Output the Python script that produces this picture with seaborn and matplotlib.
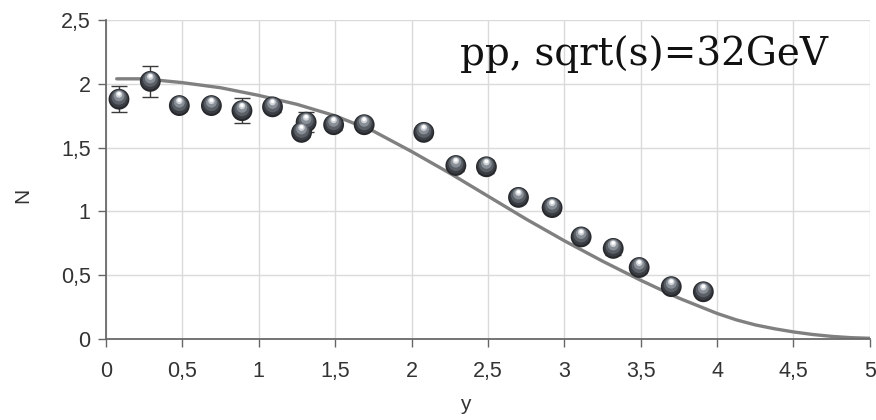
import numpy as np
import pandas as pd
import matplotlib
matplotlib.use("Agg")
import matplotlib.pyplot as plt
import matplotlib.transforms as mtransforms
import seaborn as sns

# Measured rapidity distribution
rapidity = [0.085, 0.29, 0.48, 0.69, 0.89, 1.09, 1.28, 1.31, 1.49, 1.69,
            2.08, 2.29, 2.49, 2.70, 2.92, 3.11, 3.32, 3.49, 3.70, 3.91]
multiplicity = [1.88, 2.02, 1.83, 1.83, 1.79, 1.82, 1.62, 1.70, 1.68, 1.68,
                1.62, 1.36, 1.35, 1.11, 1.03, 0.80, 0.71, 0.56, 0.41, 0.37]
multiplicity_err = [0.10, 0.12, 0.04, 0.04, 0.10, 0.04, 0.04, 0.08, 0.04, 0.04,
                    0.04, 0.04, 0.05, 0.04, 0.04, 0.04, 0.05, 0.04, 0.04, 0.04]

# Model curve
model_y = [0.07, 0.25, 0.50, 0.75, 1.00, 1.25, 1.50, 1.75, 2.00, 2.25, 2.50,
           2.75, 3.00, 3.25, 3.50, 3.75, 3.875, 4.00, 4.125, 4.25, 4.375,
           4.50, 4.625, 4.75, 4.875, 5.00]
model_n = [2.04, 2.04, 2.01, 1.97, 1.91, 1.84, 1.75, 1.63, 1.47, 1.30, 1.12,
           0.94, 0.77, 0.61, 0.46, 0.32, 0.26, 0.20, 0.15, 0.11, 0.08,
           0.055, 0.035, 0.02, 0.01, 0.005]

x_ticks = [0, 0.5, 1, 1.5, 2, 2.5, 3, 3.5, 4, 4.5, 5]
x_tick_labels = ["0", "0,5", "1", "1,5", "2", "2,5", "3", "3,5", "4", "4,5", "5"]
y_ticks = [0, 0.5, 1, 1.5, 2, 2.5]
y_tick_labels = ["0", "0,5", "1", "1,5", "2", "2,5"]

data = pd.DataFrame({"y": rapidity, "N": multiplicity, "err": multiplicity_err})
model = pd.DataFrame({"y": model_y, "N": model_n})

sns.set_theme(style="white")
plt.rcParams["font.family"] = ["Liberation Sans", "DejaVu Sans"]

fig = plt.figure(figsize=(8.76, 4.2), dpi=100)
ax = fig.add_axes([0.121, 0.193, 0.872, 0.759])

ax.grid(True, color="#dadada", linewidth=1.0)
ax.set_axisbelow(True)

sns.lineplot(data=model, x="y", y="N", ax=ax, color="#808080",
             linewidth=2.4, zorder=2, sort=True)

ax.errorbar(data["y"], data["N"], yerr=data["err"], fmt="none",
            ecolor="#3a3a3a", elinewidth=1.0, capsize=6, capthick=1.0, zorder=3)

# Glossy sphere markers built from stacked discs
sns.scatterplot(data=data, x="y", y="N", ax=ax, s=225, color="#26282c",
                edgecolor="none", zorder=4, legend=False)
layers = [(170, "#3a3e44", -0.6), (115, "#5b6067", -1.4),
          (60, "#898f97", -2.4), (22, "#cfd3d8", -3.4), (7, "#ffffff", -3.9)]
for size, col, dy in layers:
    off = mtransforms.ScaledTranslation(0, -dy / 72, fig.dpi_scale_trans)
    ax.scatter(data["y"], data["N"], s=size, color=col, edgecolor="none",
               zorder=5, transform=ax.transData + off)

ax.set_xlim(0, 5)
ax.set_ylim(0, 2.5)
ax.set_xticks(x_ticks)
ax.set_xticklabels(x_tick_labels)
ax.set_yticks(y_ticks)
ax.set_yticklabels(y_tick_labels)
ax.tick_params(axis="both", which="major", direction="out", length=6, width=1,
               color="#666666", labelsize=15.5, labelcolor="#333333", pad=5,
               bottom=True, left=True)
ax.tick_params(axis="x", pad=10)

for side in ["top", "right"]:
    ax.spines[side].set_visible(False)
for side in ["left", "bottom"]:
    ax.spines[side].set_color("#6a6a6a")
    ax.spines[side].set_linewidth(1.3)

ax.set_xlabel("y", fontsize=15, color="#333333")
ax.set_ylabel("N", fontsize=15, color="#333333")
ax.xaxis.set_label_coords(0.47, -0.175)
ax.yaxis.set_label_coords(-0.097, 0.45)

ax.text(0.945, 0.952, "pp, sqrt(s)=32GeV", transform=ax.transAxes,
        ha="right", va="top", fontsize=28, family=["DejaVu Serif"], color="#111111")

fig.savefig("out.png", dpi=100)
